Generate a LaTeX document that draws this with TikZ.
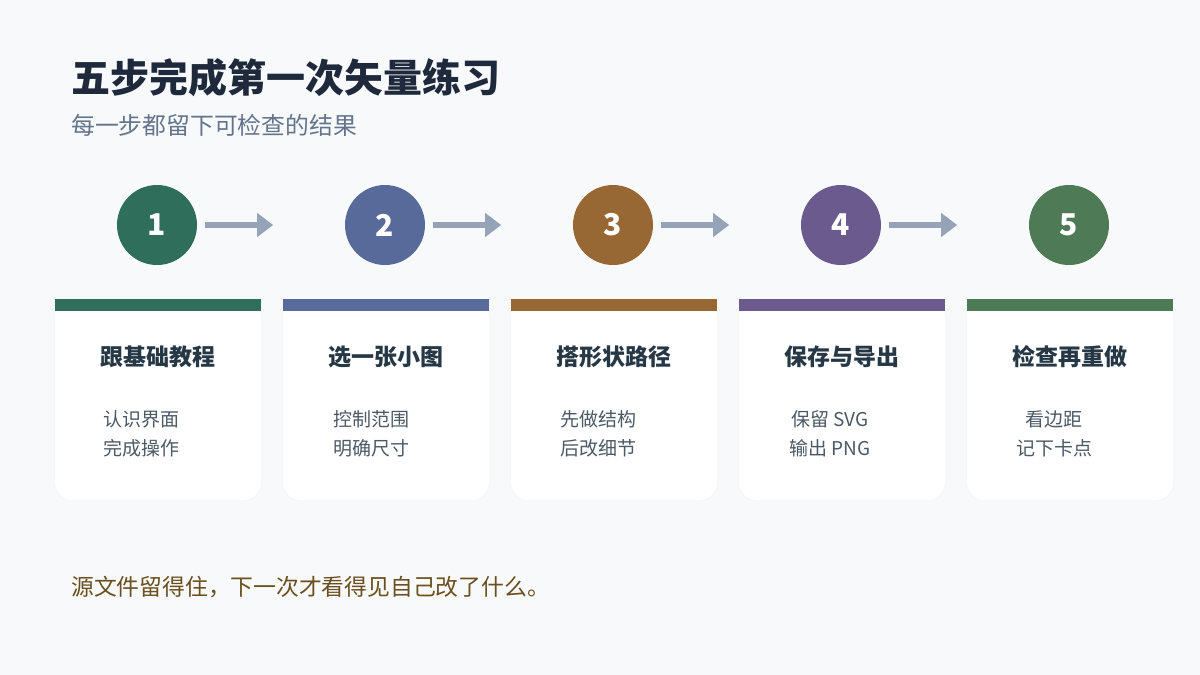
\documentclass[tikz,border=0pt]{standalone}
\usepackage{fontspec}
\setmainfont{Noto Sans CJK SC}
\usetikzlibrary{arrows.meta}
\definecolor{bg}{HTML}{F7F9FB}
\definecolor{titlec}{HTML}{1E293B}
\definecolor{subc}{HTML}{64748B}
\definecolor{cardt}{HTML}{263846}
\definecolor{itemc}{HTML}{4B5A66}
\definecolor{arrowc}{HTML}{94A3B8}
\definecolor{footc}{HTML}{6B4F1F}
\definecolor{cA}{HTML}{2E6E5A}
\definecolor{cB}{HTML}{586A9A}
\definecolor{cC}{HTML}{986834}
\definecolor{cD}{HTML}{6A5A8E}
\definecolor{cE}{HTML}{4E7A55}
\tikzset{
  numcircle/.style={circle, minimum size=80pt, inner sep=0pt, text=white, font=\fontsize{30}{30}\selectfont\bfseries},
  flow/.style={draw=arrowc, line width=6pt, -{Triangle[length=16pt,width=23pt]}},
  cardbody/.style={fill=white, rounded corners=18pt},
  cardshadow/.style={fill=black!3, rounded corners=19pt},
  cardtitle/.style={text=cardt, font=\fontsize{23}{26}\selectfont\bfseries, anchor=center},
  carditem/.style={text=itemc, font=\fontsize{19}{29.5}\selectfont, align=center, anchor=center},
}
\begin{document}
\begin{tikzpicture}[x=1pt,y=-1pt]
\fill[bg] (0,0) rectangle (1200,675);
\useasboundingbox (0,0) rectangle (1200,675);
\node[anchor=base west, inner sep=0pt, text=titlec, font=\fontsize{39}{39}\selectfont\bfseries] (title) at (71,92) {五步完成第一次矢量练习};
\node[anchor=base west, inner sep=0pt, text=subc, font=\fontsize{23.8}{24}\selectfont] (sub) at (71,134) {每一步都留下可检查的结果};
\foreach \i/\col/\ttl/\itm/\dx in {0/cA/跟基础教程/{认识界面\\完成操作}/-17, 1/cB/选一张小图/{控制范围\\明确尺寸}/-15, 2/cC/搭形状路径/{先做结构\\后改细节}/-16, 3/cD/保存与导出/{保留 SVG\\输出 PNG}/-12, 4/cE/检查再重做/{看边距\\记下卡点}/-16} {
  \pgfmathsetmacro{\xl}{55+228*\i}
  \pgfmathsetmacro{\xc}{\xl+103}
  \fill[cardshadow] (\xl-1,299) rectangle (\xl+207,501.5);
  \fill[cardbody] (\xl,299) rectangle (\xl+206,500);
  \fill[\col] (\xl,299) rectangle (\xl+206,311);
  \node[numcircle, fill=\col] (n\i) at (\xc-1,225) {\the\numexpr\i+1\relax};
  \node[cardtitle] (t\i) at (\xc,357) {\ttl};
  \node[carditem] (it\i) at (\xc+\dx,434) {\itm};
}
\foreach \i in {0,1,2,3} {
  \coordinate (e\i) at ([xshift=76pt]n\i.east);
  \draw[flow] ([xshift=8pt]n\i.east) -- (e\i);
}
\node[anchor=base west, inner sep=0pt, text=footc, font=\fontsize{22.8}{23}\selectfont] (foot) at (71,595) {源文件留得住，下一次才看得见自己改了什么。};
\end{tikzpicture}
\end{document}
